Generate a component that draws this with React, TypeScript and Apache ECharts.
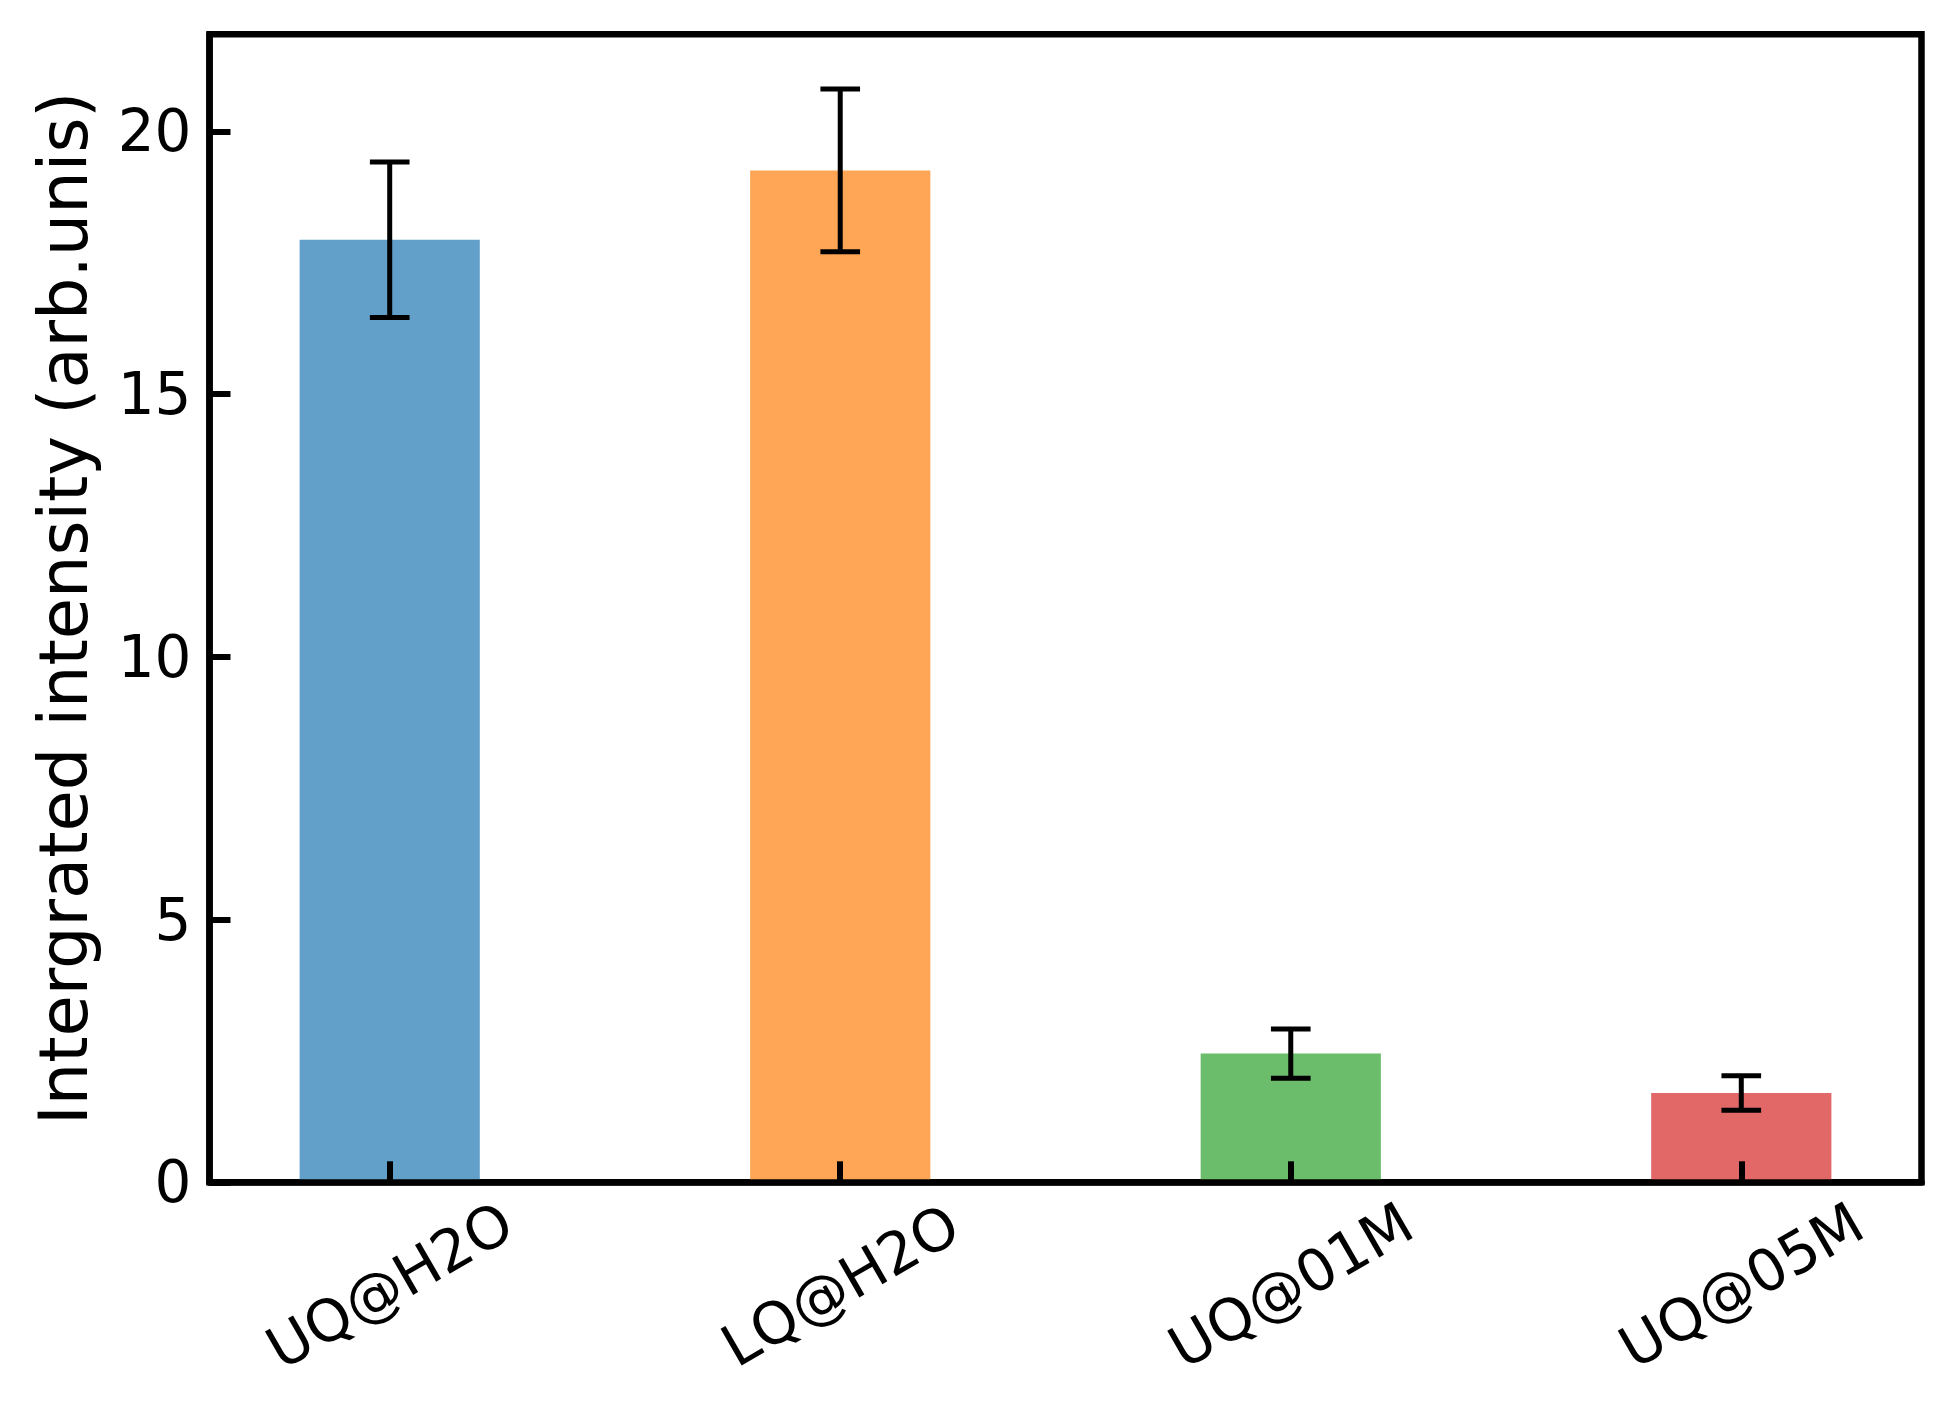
import React, { useEffect, useRef } from "react";
import * as echarts from "echarts";

const categories = ["UQ@H2O", "LQ@H2O", "UQ@01M", "UQ@05M"];
const values = [17.94, 19.26, 2.45, 1.7];
const errors = [1.48, 1.55, 0.47, 0.33];
const colors = ["#62A0CA", "#FFA556", "#6BBC6B", "#E26868"];
const yTicks = [0, 5, 10, 15, 20];
const xTicks = [0, 1, 2, 3];

const FONT = "DejaVu Sans";

export default function App() {
  const ref = useRef<HTMLDivElement>(null);
  useEffect(() => {
    document.body.style.margin = "0";
    const chart = echarts.init(ref.current!, null, { renderer: "svg" });
    const barData = values.map((v, i) => [i, v]);
    const errData = values.map((v, i) => [i, v, errors[i]]);
    chart.setOption({
      animation: false,
      backgroundColor: "#ffffff",
      grid: {
        left: 209.5,
        top: 34.3,
        right: 28.5,
        bottom: 218.7,
        show: true,
        borderColor: "#000",
        borderWidth: 6.5,
        backgroundColor: "transparent",
      },
      xAxis: {
        type: "value",
        min: -0.4,
        max: 3.4,
        z: 3,
        splitLine: { show: false },
        axisLine: { show: true, onZero: false, lineStyle: { color: "#000", width: 6.5 } },
        axisTick: {
          show: true,
          inside: true,
          length: 21,
          customValues: xTicks,
          lineStyle: { color: "#000", width: 6 },
        },
        axisLabel: {
          customValues: xTicks,
          formatter: (v: number) => categories[Math.round(v)] ?? "",
          rotate: 30,
          align: "center",
          verticalAlign: "middle",
          margin: 103,
          fontFamily: FONT,
          fontSize: 58,
          color: "#000",
        },
      },
      yAxis: {
        type: "value",
        min: 0,
        max: 21.85,
        z: 3,
        splitLine: { show: false },
        axisLine: { show: true, onZero: false, lineStyle: { color: "#000", width: 6.5 } },
        axisTick: {
          show: true,
          inside: true,
          length: 21,
          customValues: yTicks,
          lineStyle: { color: "#000", width: 6 },
        },
        axisLabel: {
          customValues: yTicks,
          margin: 18,
          fontFamily: FONT,
          fontSize: 58,
          color: "#000",
        },
        name: "Intergrated intensity (arb.unis)",
        nameLocation: "middle",
        nameGap: 112,
        nameTextStyle: { fontFamily: FONT, fontSize: 67, color: "#000" },
      },
      series: [
        {
          type: "custom",
          z: 1,
          data: barData,
          renderItem: (params: any, api: any) => {
            const i = api.value(0);
            const v = api.value(1);
            const p1 = api.coord([i - 0.2, v]);
            const p2 = api.coord([i + 0.2, 0]);
            return {
              type: "rect",
              shape: { x: p1[0], y: p1[1], width: p2[0] - p1[0], height: p2[1] - p1[1] },
              style: { fill: colors[params.dataIndex] },
            };
          },
        },
        {
          type: "custom",
          z: 4,
          data: errData,
          renderItem: (params: any, api: any) => {
            const i = api.value(0);
            const v = api.value(1);
            const e = api.value(2);
            const top = api.coord([i, v + e]);
            const bot = api.coord([i, v - e]);
            const capL = api.coord([i - 0.044, v])[0];
            const capR = api.coord([i + 0.044, v])[0];
            const st = { stroke: "#000", lineWidth: 5 };
            return {
              type: "group",
              children: [
                { type: "line", shape: { x1: top[0], y1: top[1], x2: bot[0], y2: bot[1] }, style: st },
                { type: "line", shape: { x1: capL, y1: top[1], x2: capR, y2: top[1] }, style: st },
                { type: "line", shape: { x1: capL, y1: bot[1], x2: capR, y2: bot[1] }, style: st },
              ],
            };
          },
        },
      ],
    });
    return () => chart.dispose();
  }, []);
  return <div ref={ref} style={{ width: 1950, height: 1401 }} />;
}
